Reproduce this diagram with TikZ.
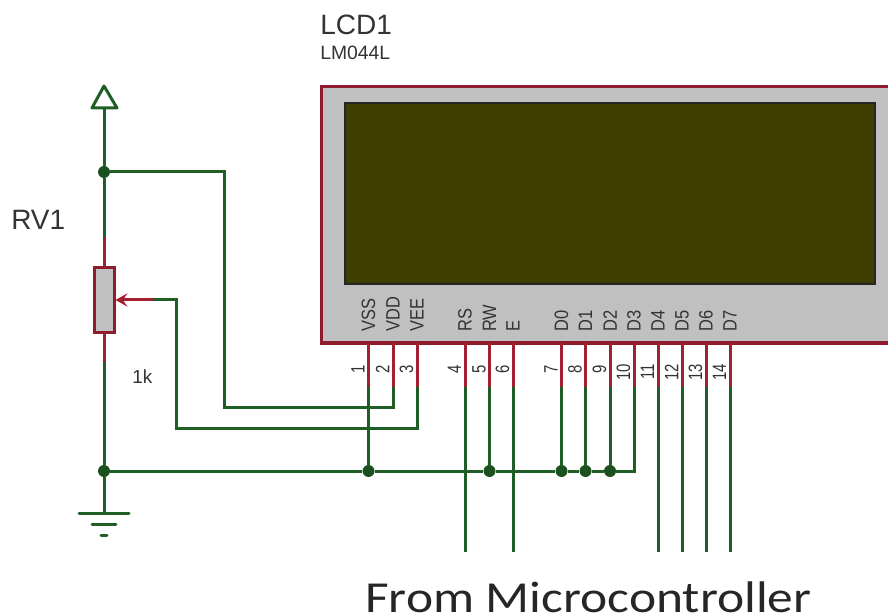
\documentclass[tikz,border=0pt]{standalone}
\usepackage{fontspec}
\setmainfont{Liberation Sans}
\newfontfamily\captionfont{Carlito}
\usetikzlibrary{arrows.meta}
\definecolor{wire}{HTML}{1F5F25}
\definecolor{pinred}{HTML}{A2202F}
\definecolor{edge}{HTML}{8E1C2C}
\definecolor{body}{HTML}{C0C0C0}
\definecolor{screen}{HTML}{3E3E00}
\definecolor{ink}{HTML}{333333}
\tikzset{
    wire/.style={draw=wire,line width=2.25pt},
    pinline/.style={draw=pinred,line width=2.25pt},
    joint/.style={circle,fill=wire!85!black,inner sep=0pt,minimum size=9pt},
    pinname/.style={rotate=90,xscale=.85,anchor=west,inner sep=0pt,text=ink,font=\fontsize{14.5}{14.5}\selectfont},
    pinnum/.style={rotate=90,xscale=.77,inner sep=0pt,text=ink,font=\fontsize{14.5}{14.5}\selectfont},
    txt/.style={inner sep=0pt,anchor=base west,text=ink}
}
\begin{document}
\begin{tikzpicture}[x=0.75pt,y=-0.75pt]
        \useasboundingbox (0,0) rectangle (888,616);
        \clip (0,0) rectangle (888,616);
        % display module
        \node[draw=edge,fill=body,line width=2.25pt,minimum width=450pt,minimum height=192pt,inner sep=0pt] (lcd) at (621,215) {};
        \node[draw=black!85,fill=screen,line width=1.5pt,minimum width=397.5pt,minimum height=135.5pt,inner sep=0pt] (lcdscreen) at (610,193.5) {};
        \node[txt,font=\fontsize{21}{21}\selectfont] (lcdname) at (320,35) {LCD1};
        \node[txt,font=\fontsize{14.5}{14.5}\selectfont] (lcdtype) at (320,60) {LM044L};
        % pins of the module
        \foreach[count=\x] \d/\f in {368.5/VSS,393/VDD,417/VEE,465/RS,489.5/RW,513/E,561.5/D0,585.5/D1,610/D2,634/D3,658/D4,682/D5,706/D6,730/D7}{
            \coordinate (a\x) at (\d,343);
            \coordinate (b\x) at (\d,387);
            \draw[pinline] (a\x) -- (b\x);
            \node[pinname] (f\x) at (\d,332) {\f};
            \node[pinnum] (n\x) at (\d-10.5,\ifnum\x>9 372\else 369\fi) {\x};
        }
        % potentiometer
        \node[draw=edge,fill=body,line width=2.25pt,minimum width=15pt,minimum height=48.5pt,inner sep=0pt] (pot) at (104,300) {};
        \node[txt,font=\fontsize{21}{21}\selectfont] (potname) at (11,230) {RV1};
        \node[txt,font=\fontsize{14.2}{14.2}\selectfont] (potvalue) at (132,383) {1k};
        \coordinate (ptop) at (104,237);
        \coordinate (pbot) at (104,362);
        \coordinate (wipe) at (153,300);
        \draw[pinline] (ptop) -- (pot.north);
        \draw[pinline] (pot.south) -- (pbot);
        \draw[pinline,-{Stealth[length=9pt,width=10pt,inset=3.5pt]}] (wipe) -- (pot.east);
        % supply and ground
        \coordinate (vcc) at (104,108);
        \node[joint] (j1) at (104,172) {};
        \node[joint] (j2) at (104,471) {};
        \coordinate (gnd) at (104,513);
        \draw[wire,line join=round] (92,108) -- (104,86) -- (117,108) -- cycle;
        \draw[wire] (vcc) -- (j1) -- (ptop);
        \draw[wire] (pbot) -- (j2) -- (gnd);
        \draw[wire,line cap=round] (79,513) -- (129,513);
        \draw[wire,line cap=round] (92,524) -- (116,524);
        \draw[wire,line cap=round] (101,535) -- (107,535);
        % wires to the pins
        \draw[wire] (j1) -| (224,407) -| (b2);
        \draw[wire] (wipe) -| (176,428) -| (b3);
        \node[joint] (j3) at (368.5,471) {};
        \node[joint] (j4) at (489.5,471) {};
        \node[joint] (j5) at (561.5,471) {};
        \node[joint] (j6) at (585.5,471) {};
        \node[joint] (j7) at (610,471) {};
        \draw[wire] (j2) -- (j3) -- (j4) -- (j5) -- (j6) -- (j7) -| (b10);
        \draw[wire] (b1) -- (j3);
        \draw[wire] (b5) -- (j4);
        \draw[wire] (b7) -- (j5);
        \draw[wire] (b8) -- (j6);
        \draw[wire] (b9) -- (j7);
        \foreach \x/\d in {4/465,6/513,11/658,12/682,13/706,14/730}{
            \coordinate (e\x) at (\d,552);
            \draw[wire] (b\x) -- (e\x);
        }
        \node[txt,yscale=.86,font=\captionfont\fontsize{38.6}{38.6}\selectfont,text=black!85] (from) at (365,612) {From Microcontroller};
    \end{tikzpicture}
\end{document}
